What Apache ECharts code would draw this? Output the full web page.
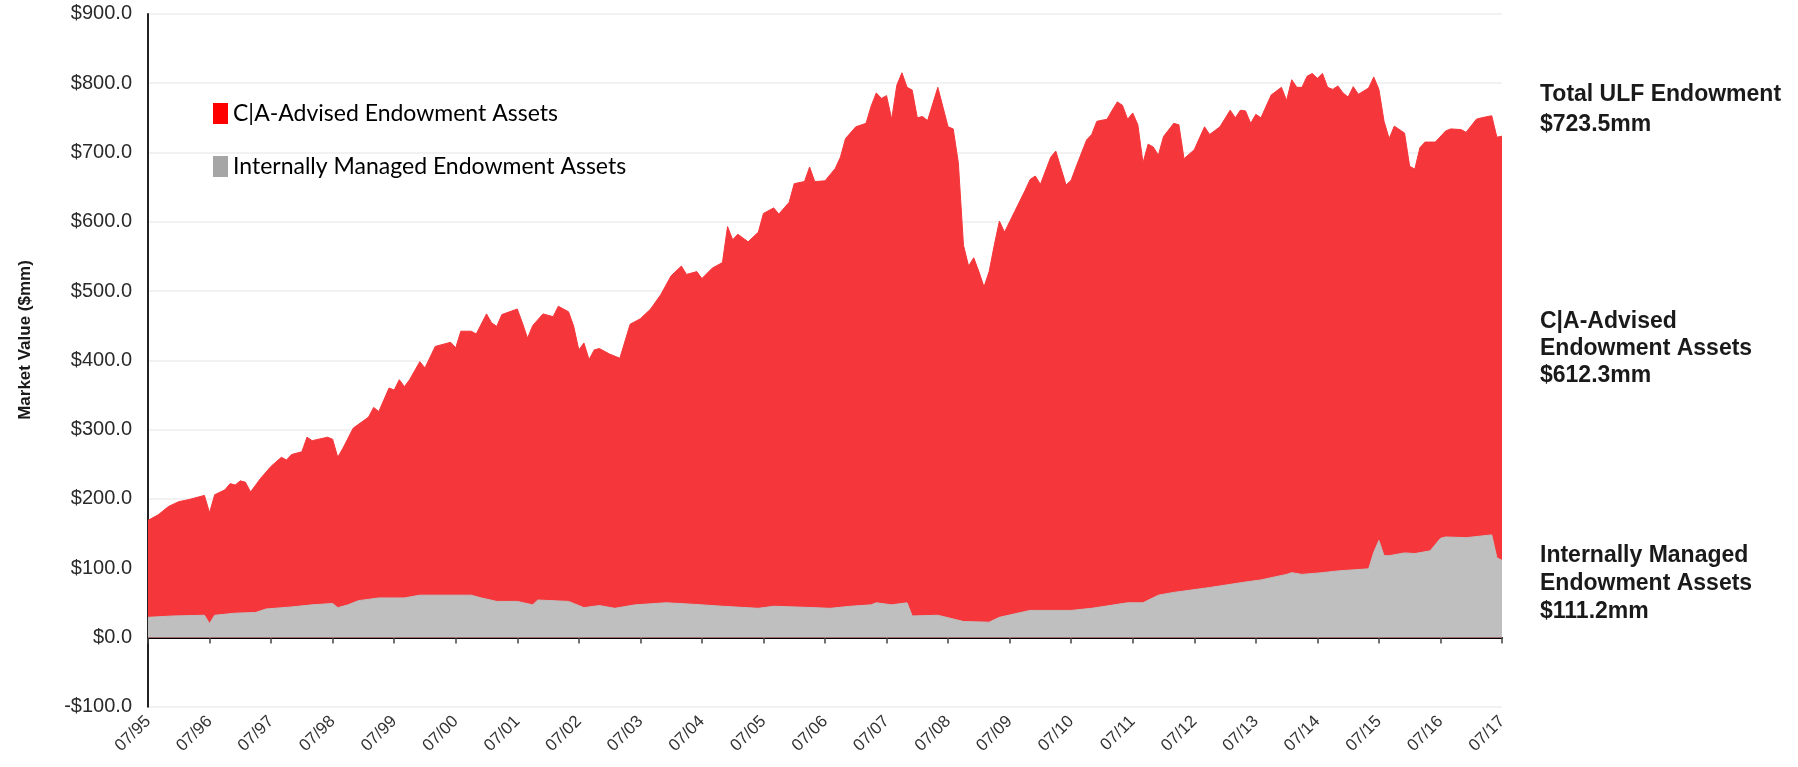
<!DOCTYPE html>
<html><head><meta charset="utf-8">
<script src="https://cdn.jsdelivr.net/npm/echarts@6/dist/echarts.min.js"></script>
<style>html,body{margin:0;padding:0;background:#fff}#c{width:1798px;height:767px}</style>
</head><body><div id="c"></div>
<script>
// x tick labels (each July)
const tickLabels = ['07/95','07/96','07/97','07/98','07/99','07/00','07/01','07/02','07/03','07/04','07/05','07/06','07/07','07/08','07/09','07/10','07/11','07/12','07/13','07/14','07/15','07/16','07/17'];

// Top of the red band = Total ULF Endowment ($mm)
const totalDates = ['1995-07','1995-09','1995-11','1996-01','1996-03','1996-06','1996-07','1996-08','1996-10','1996-11','1996-12','1997-01','1997-02','1997-03','1997-05','1997-07','1997-09','1997-10','1997-11','1998-01','1998-02','1998-03','1998-06','1998-07','1998-08','1998-09','1998-11','1999-02','1999-03','1999-04','1999-06','1999-07','1999-08','1999-09','1999-10','1999-12','2000-01','2000-03','2000-06','2000-07','2000-08','2000-10','2000-11','2001-01','2001-02','2001-03','2001-04','2001-07','2001-08','2001-09','2001-10','2001-12','2002-02','2002-03','2002-05','2002-06','2002-07','2002-08','2002-09','2002-10','2002-11','2003-01','2003-03','2003-05','2003-07','2003-09','2003-11','2004-01','2004-03','2004-04','2004-06','2004-07','2004-09','2004-11','2004-12','2005-01','2005-02','2005-04','2005-06','2005-07','2005-09','2005-10','2005-12','2006-01','2006-03','2006-04','2006-05','2006-07','2006-08','2006-09','2006-10','2006-11','2007-01','2007-03','2007-04','2007-05','2007-06','2007-07','2007-08','2007-09','2007-10','2007-11','2007-12','2008-01','2008-02','2008-03','2008-05','2008-07','2008-08','2008-09','2008-10','2008-11','2008-12','2009-01','2009-02','2009-03','2009-04','2009-05','2009-06','2009-08','2009-10','2009-11','2009-12','2010-01','2010-03','2010-04','2010-06','2010-07','2010-08','2010-10','2010-11','2010-12','2011-02','2011-03','2011-04','2011-05','2011-06','2011-07','2011-08','2011-09','2011-10','2011-11','2011-12','2012-01','2012-03','2012-04','2012-05','2012-07','2012-09','2012-10','2012-12','2013-02','2013-03','2013-04','2013-05','2013-06','2013-07','2013-08','2013-10','2013-12','2014-01','2014-02','2014-03','2014-04','2014-05','2014-06','2014-07','2014-08','2014-09','2014-10','2014-11','2014-12','2015-01','2015-02','2015-03','2015-05','2015-06','2015-07','2015-08','2015-09','2015-10','2015-12','2016-01','2016-02','2016-03','2016-04','2016-06','2016-08','2016-09','2016-11','2016-12','2017-02','2017-03','2017-05','2017-06','2017-07'];
const totalValues = [169,177,189,196,199,205,180,206,213,222,220,226,224,210,230,247,260,256,264,268,289,284,289,286,260,273,302,318,332,326,360,357,372,362,372,398,389,420,426,418,442,442,438,467,454,449,466,474,454,432,450,467,463,478,470,449,415,425,401,415,417,409,403,452,460,474,495,522,536,524,528,518,533,541,593,574,582,571,585,612,620,611,628,655,658,679,658,659,668,677,693,720,737,742,767,786,778,782,748,797,815,794,790,750,752,746,794,737,734,685,566,536,548,528,506,528,566,601,585,615,645,661,666,654,693,702,653,660,680,718,726,745,748,761,773,768,748,757,740,685,712,708,696,723,742,740,691,704,737,726,737,761,750,761,760,742,755,750,783,794,775,805,794,794,810,814,807,814,794,791,796,786,780,795,784,793,809,791,745,720,738,728,680,676,707,715,715,731,734,733,729,748,750,753,722,723.5];

// Internally Managed Endowment Assets ($mm)
const internalDates = ['1995-07','1995-12','1996-06','1996-07','1996-08','1996-12','1997-04','1997-06','1997-11','1998-03','1998-07','1998-08','1998-10','1998-12','1999-04','1999-09','1999-12','2000-10','2000-12','2001-03','2001-07','2001-10','2001-11','2002-05','2002-08','2002-11','2003-02','2003-06','2003-12','2004-05','2004-11','2005-06','2005-09','2006-03','2006-08','2006-12','2007-04','2007-05','2007-08','2007-11','2007-12','2008-05','2008-10','2009-03','2009-05','2009-08','2009-11','2010-07','2010-11','2011-06','2011-09','2011-12','2012-03','2012-10','2013-05','2013-08','2014-01','2014-02','2014-04','2014-08','2014-11','2015-05','2015-06','2015-07','2015-08','2015-09','2015-12','2016-02','2016-05','2016-07','2016-08','2016-12','2017-05','2017-06','2017-07'];
const internalValues = [29,31,32,20,32,35,36,41,44,47,49,43,47,53,57,57,61,61,57,52,52,47,54,52,43,46,42,47,50,48,45,42,45,43.5,42,45,47,50,47,50,31,32,23,22,29,34,39,39,42,50,50,61,65,72,80,83,91,93.5,91,93.5,96,99,123,140,118,118,122,121,125,143,145,144,148,115,111.2];

// Right-side annotations
const endLabels = [
  ['Total ULF Endowment', '$723.5mm'],
  ['C|A-Advised', 'Endowment Assets', '$612.3mm'],
  ['Internally Managed', 'Endowment Assets', '$111.2mm']
];
const seriesNames = ['C|A-Advised Endowment Assets', 'Internally Managed Endowment Assets'];
const yAxisTitle = 'Market Value ($mm)';

function idx(d) { const p = d.split('-'); return (+p[0] - 1995) * 12 + (+p[1] - 7); }
const totalData = totalDates.map((d, i) => [idx(d), totalValues[i]]);
const internalData = internalDates.map((d, i) => [idx(d), internalValues[i]]);

const labelTops = [[95, 125], [322, 349.5, 376.5], [556, 584.5, 612]];
const graphics = [];
endLabels.forEach((lines, g) => {
  lines.forEach((t, k) => {
    graphics.push({
      type: 'text', left: 1540, top: labelTops[g][k] - 12,
      style: { text: t, fill: '#1a1a1a', font: 'bold 23px "Liberation Sans", Arial, sans-serif', verticalAlign: 'top' }
    });
  });
});
graphics.push({
  type: 'text', x: 25, y: 340, rotation: Math.PI / 2,
  style: { text: yAxisTitle, fill: '#1a1a1a', font: 'bold 17px "Liberation Sans", Arial, sans-serif', align: 'center', verticalAlign: 'middle' }
});

const chart = echarts.init(document.getElementById('c'), null, { renderer: 'canvas' });
chart.setOption({
  animation: false,
  backgroundColor: '#fff',
  grid: { left: 148, right: 296, top: 13.9, bottom: 60.3, containLabel: false },
  legend: {
    orient: 'vertical', left: 208, top: 97, itemWidth: 15, itemHeight: 21, itemGap: 30,
    icon: 'rect',
    textStyle: { fontFamily: 'Lato', fontSize: 23, color: '#000' },
    data: [
      { name: seriesNames[0], itemStyle: { color: '#ff0000' } },
      { name: seriesNames[1], itemStyle: { color: '#a6a6a6' } }
    ]
  },
  xAxis: [
    {
      type: 'value', min: 0, max: 264, interval: 12, position: 'bottom',
      axisLine: { show: false, onZero: false }, axisTick: { show: false }, splitLine: { show: false },
      axisLabel: {
        rotate: 45, margin: 12, color: '#333', fontSize: 17, fontFamily: '"Liberation Sans", Arial, sans-serif',
        formatter: v => tickLabels[Math.round(v / 12)]
      }
    },
    {
      type: 'value', min: 0, max: 264, interval: 12, position: 'bottom',
      axisLine: { show: true, onZero: true, lineStyle: { color: '#000', width: 2 } },
      axisTick: { show: true, length: 6, lineStyle: { color: '#444', width: 1.5 } },
      axisLabel: { show: false }, splitLine: { show: false }
    }
  ],
  yAxis: {
    type: 'value', min: -100, max: 900, interval: 100,
    axisLine: { show: true, lineStyle: { color: '#222', width: 2 } },
    axisTick: { show: false },
    splitLine: { show: true, lineStyle: { color: '#eeeeee', width: 1.5 } },
    axisLabel: {
      margin: 16, color: '#2a2a2a', fontSize: 20, fontFamily: '"Liberation Sans", Arial, sans-serif',
      formatter: v => (v < 0 ? '-$' + Math.abs(v).toFixed(1) : '$' + v.toFixed(1))
    }
  },
  series: [
    {
      name: seriesNames[0], type: 'line', xAxisIndex: 0, data: totalData, showSymbol: false,
      lineStyle: { width: 1, color: '#f5363a' }, itemStyle: { color: '#f5363a' },
      areaStyle: { color: '#f5363a', opacity: 1 }, z: 2
    },
    {
      name: seriesNames[1], type: 'line', xAxisIndex: 0, data: internalData, showSymbol: false,
      lineStyle: { width: 1, color: '#bfbfbf' }, itemStyle: { color: '#bfbfbf' },
      areaStyle: { color: '#bfbfbf', opacity: 1 }, z: 3
    }
  ],
  graphic: graphics
});
</script></body></html>
